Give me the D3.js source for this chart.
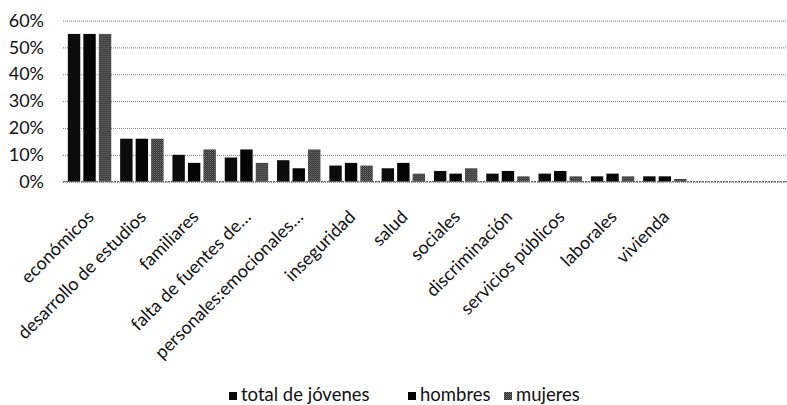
<!DOCTYPE html>
<html>
<head>
<meta charset="utf-8">
<script src="https://cdn.jsdelivr.net/npm/d3@7"></script>
<style>
  html, body { margin: 0; padding: 0; background: #fff; }
  svg { display: block; }
  text { font-family: Lato, "Open Sans", sans-serif; fill: #111; }
</style>
</head>
<body>
<svg id="chart" width="787" height="405"></svg>
<script>
const categories = ["económicos", "desarrollo de estudios", "familiares", "falta de fuentes de…",
  "personales:emocionales…", "inseguridad", "salud", "sociales", "discriminación",
  "servicios públicos", "laborales", "vivienda"];
const seriesNames = ["total de jóvenes", "hombres", "mujeres"];
const totalValues   = [55, 16, 10, 9, 8, 6, 5, 4, 3, 3, 2, 2];
const hombresValues = [55, 16, 7, 12, 5, 7, 7, 3, 4, 4, 3, 2];
const mujeresValues = [55, 16, 12, 7, 12, 6, 3, 5, 2, 2, 2, 1];
const yTicks = [0, 10, 20, 30, 40, 50, 60];

const seriesValues = [totalValues, hombresValues, mujeresValues];

const svg = d3.select("#chart");
const defs = svg.append("defs");
const pat = defs.append("pattern").attr("id", "mujPat").attr("width", 2).attr("height", 2)
  .attr("patternUnits", "userSpaceOnUse");
pat.append("rect").attr("width", 2).attr("height", 2).attr("fill", "#2e2e2e");
pat.append("rect").attr("width", 1).attr("height", 1).attr("fill", "#7a7a7a");
pat.append("rect").attr("x", 1).attr("y", 1).attr("width", 1).attr("height", 1).attr("fill", "#5a5a5a");
const fills = ["#0c0c0c", "#050505", "url(#mujPat)"];

const x0 = d3.scaleBand().domain(categories).range([63.4, 63.4 + 12 * 52.3]);
const x1 = d3.scaleBand().domain(seriesNames).range([-23.25, 23.25]).paddingInner(0.2).paddingOuter(0.1);
const y = d3.scaleLinear().domain([0, 60]).range([181.7, 20.5]);

// gridlines
const gridG = svg.append("g").attr("transform", "translate(63,0)")
  .call(d3.axisLeft(y).tickValues(yTicks).tickSize(-724).tickFormat(""));
gridG.select(".domain").remove();
gridG.selectAll(".tick line").attr("stroke", "#7c7c7c").attr("stroke-width", 1)
  .attr("stroke-dasharray", "1,1");

// y labels
const yAx = svg.append("g").attr("transform", "translate(44,0)")
  .call(d3.axisLeft(y).tickValues(yTicks).tickSize(0).tickPadding(0).tickFormat(d => d + "%"));
yAx.select(".domain").remove();
yAx.selectAll("text").style("font-size", "18px").style("font-family", "Lato, sans-serif").attr("fill", "#111");

// bars
const groups = svg.append("g").selectAll("g").data(categories).join("g")
  .attr("transform", d => `translate(${x0(d) + x0.bandwidth() / 2},0)`);
groups.selectAll("rect").data((d, i) => seriesNames.map((s, j) => ({ s, j, v: seriesValues[j][i] })))
  .join("rect")
  .attr("x", d => x1(d.s))
  .attr("width", x1.bandwidth())
  .attr("y", d => y(d.v))
  .attr("height", d => y(0) - y(d.v))
  .attr("fill", d => fills[d.j]);

// baseline
svg.append("line").attr("x1", 63).attr("x2", 787).attr("y1", y(0)).attr("y2", y(0))
  .attr("stroke", "#666").attr("stroke-width", 1.2).attr("stroke-dasharray", "2,1");

// x labels
svg.append("g").selectAll("text").data(categories).join("text")
  .attr("transform", d => `translate(${x0(d) + x0.bandwidth() / 2 + 5.5},218) rotate(-45)`)
  .attr("text-anchor", "end")
  .style("font-size", "18px")
  .text(d => d);

// legend
const legX = [229, 408, 504];
const leg = svg.append("g").selectAll("g").data(seriesNames).join("g")
  .attr("transform", (d, i) => `translate(${legX[i]},0)`);
leg.append("rect").attr("x", 0).attr("y", 392).attr("width", 8).attr("height", 8)
  .attr("fill", (d, i) => fills[i]);
leg.append("text").attr("x", 12).attr("y", 401).style("font-size", "18.5px").text(d => d);
</script>
</body>
</html>
